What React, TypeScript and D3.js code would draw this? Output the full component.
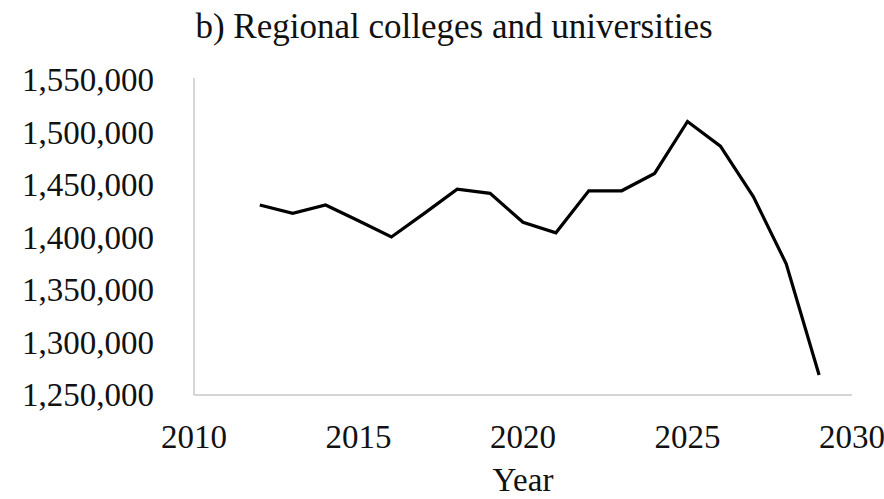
import React from "react";
import * as d3 from "d3";

const years = [2012, 2013, 2014, 2015, 2016, 2017, 2018, 2019, 2020, 2021, 2022, 2023, 2024, 2025, 2026, 2027, 2028, 2029];
const enrolment = [1431000, 1423000, 1431000, 1416000, 1400500, 1423000, 1446000, 1442000, 1414500, 1404500, 1444500, 1444500, 1461000, 1510500, 1487000, 1439000, 1375000, 1269000];
const xTicks = [2010, 2015, 2020, 2025, 2030];
const yTicks = [1250000, 1300000, 1350000, 1400000, 1450000, 1500000, 1550000];
const title = "b) Regional colleges and universities";
const xLabel = "Year";

const W = 884;
const H = 499;
const left = 194;
const right = 852;
const top = 80;
const bottom = 395;
const font = "'Liberation Serif', 'Times New Roman', serif";

export default function App() {
  const x = d3.scaleLinear().domain([2010, 2030]).range([left, right]);
  const y = d3.scaleLinear().domain([1250000, 1550000]).range([bottom, top]);
  const fmt = d3.format(",");
  const line = d3
    .line<number>()
    .x((_, i) => x(years[i]))
    .y((d) => y(d));
  return (
    <svg width={W} height={H} style={{ position: "absolute", left: 0, top: 0, background: "#fff" }} fontFamily={font}>
      <rect width={W} height={H} fill="#fff" />
      <text x={454} y={38} textAnchor="middle" fontSize={35} fill="#111">
        {title}
      </text>
      <line x1={left} x2={left} y1={top - 2} y2={bottom} stroke="#c8c8c8" strokeWidth={1.5} />
      <line x1={left} x2={right} y1={bottom} y2={bottom} stroke="#c8c8c8" strokeWidth={1.5} />
      {yTicks.map((t) => (
        <text key={t} x={154} y={y(t) + 11} textAnchor="end" fontSize={33} fill="#111">
          {fmt(t)}
        </text>
      ))}
      {xTicks.map((t) => (
        <text key={t} x={x(t)} y={448} textAnchor="middle" fontSize={33} fill="#111">
          {t}
        </text>
      ))}
      <text x={(left + right) / 2} y={491} textAnchor="middle" fontSize={33} fill="#111">
        {xLabel}
      </text>
      <path d={line(enrolment) || ""} fill="none" stroke="#000" strokeWidth={3.2} strokeLinejoin="miter" />
    </svg>
  );
}
